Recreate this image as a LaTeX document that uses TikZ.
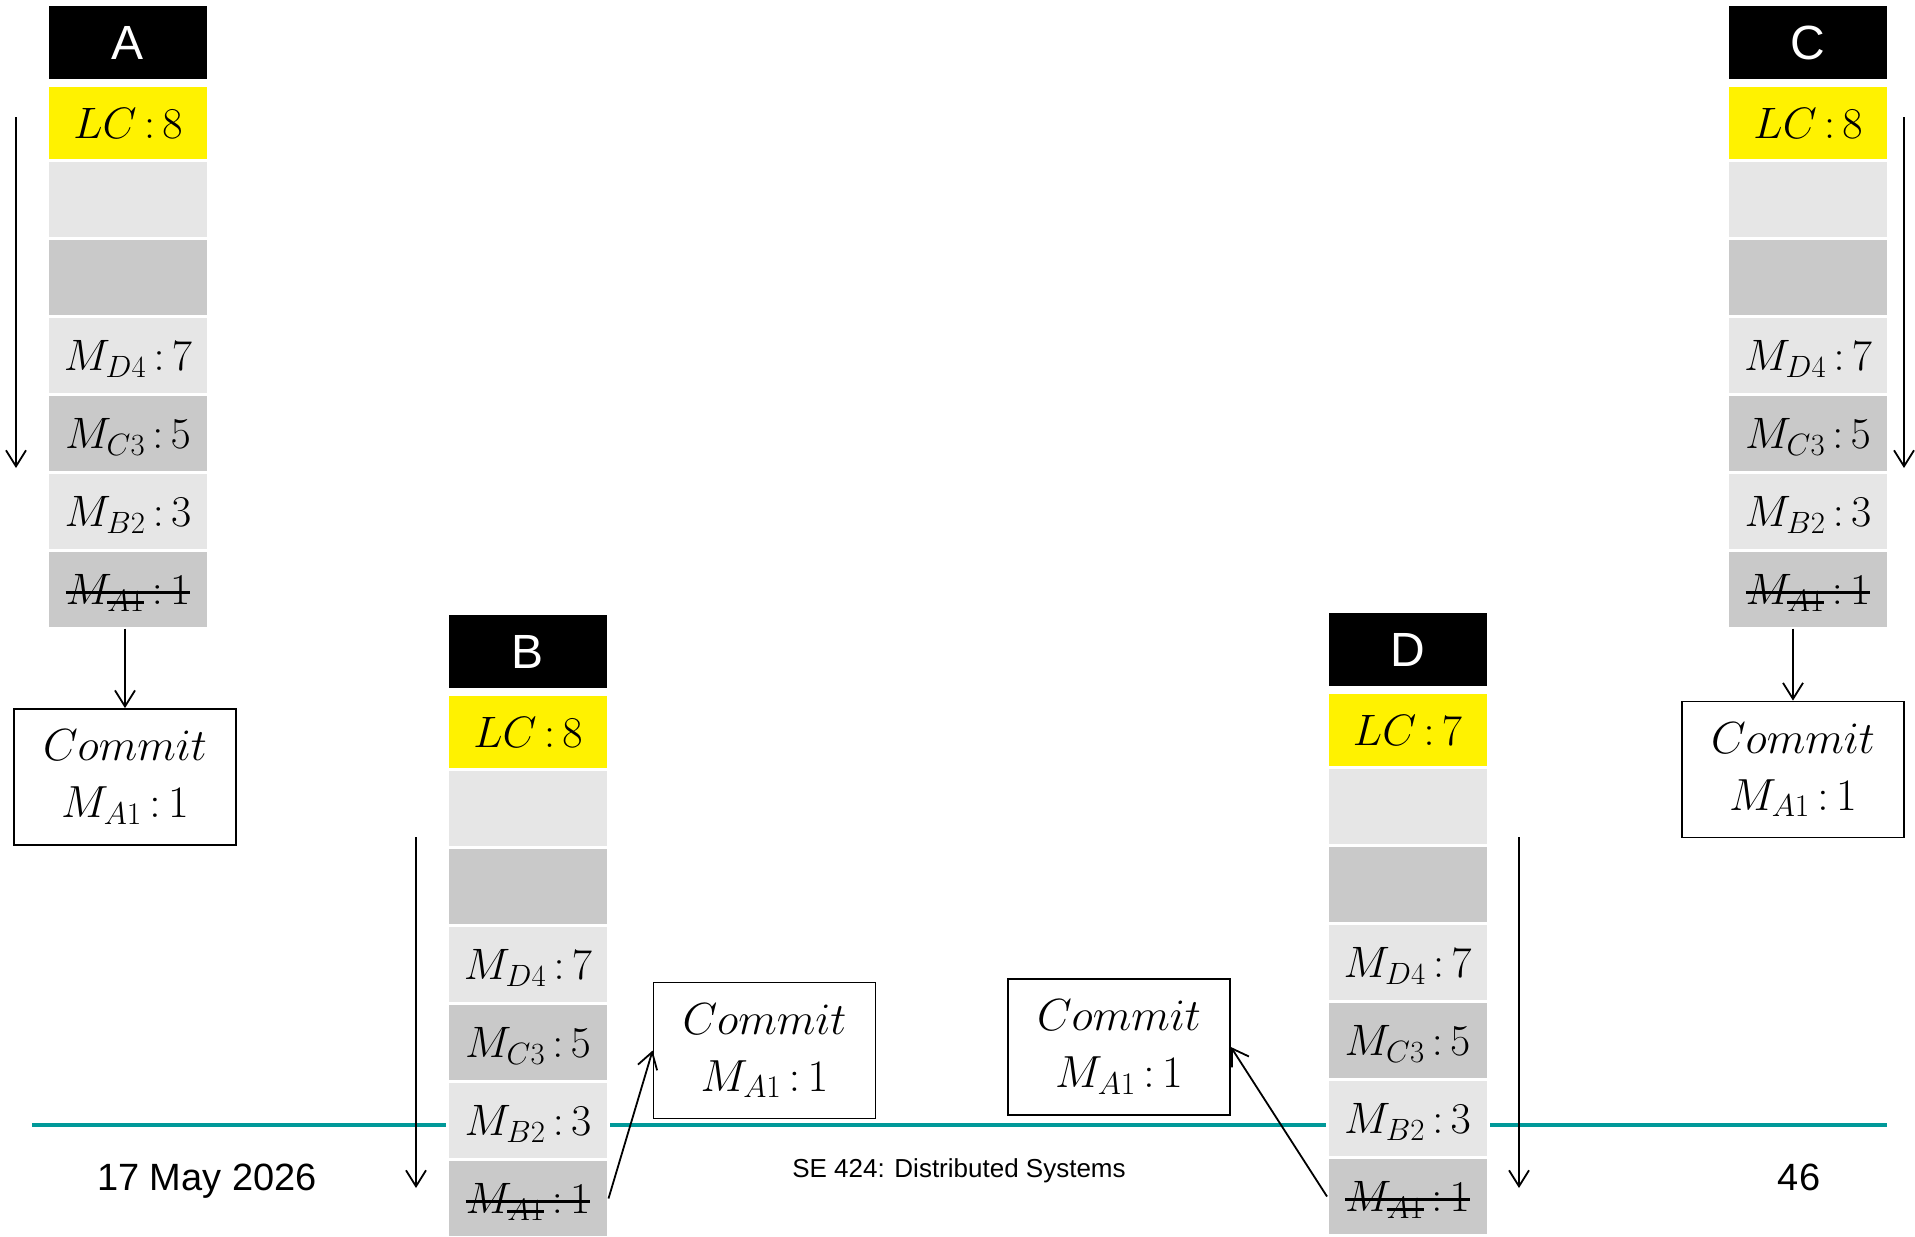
\RequirePackage{fix-cm}
\documentclass[tikz,border=0pt]{standalone}
\usepackage{fontspec}
\setsansfont{Liberation Sans}
\usetikzlibrary{arrows.meta, positioning}

\definecolor{slotlight}{RGB}{230,230,230}
\definecolor{slotdark}{RGB}{201,201,201}
\definecolor{railteal}{RGB}{0,153,153}

% struck-out entry, works in any math style
\newcommand{\gone}[1]{\mathpalette\goneaux{#1}}
\newcommand{\goneaux}[2]{\setbox0\hbox{$\mathsurround=0pt#1#2$}\rlap{\rule[0.36\ht0]{\wd0}{2.8pt}}\box0}

\tikzset{
    head/.style={rectangle, fill=black, draw=white, line width=3pt, outer sep=0pt, minimum width=161pt, minimum height=76pt, text=white, font=\sffamily\fontsize{48}{50}\selectfont, text height=34pt, text depth=0pt},
    clock/.style={head, fill=yellow, text=black, minimum height=75pt, font=\fontsize{44}{50}\selectfont, text height=30pt},
    slot/.style={clock, minimum height=78pt},
    slot light/.style={slot, fill=slotlight},
    slot dark/.style={slot, fill=slotdark},
    commit/.style={rectangle, draw, line width=1.8pt, minimum width=222pt, minimum height=136pt, align=center, font=\fontsize{45}{57}\selectfont},
    flow/.style={-{Straight Barb[length=16pt,width=20pt]}, line width=1.8pt},
    footer/.style={font=\sffamily\fontsize{38}{40}\selectfont, anchor=base}
}

% one process: name, x, y of the header, letter, logical clock
\newcommand{\logcolumn}[5]{%
    \node[head] (#1) at (#2,#3) {#4};
    \node[clock, below=5pt of #1] (#1lc) {$LC\,{:}\,#5$};
    \node[slot light, below=0pt of #1lc] (#1e1) {};
    \node[slot dark, below=0pt of #1e1] (#1e2) {};
    \node[slot light, below=0pt of #1e2] (#1d4) {$M_{D4}\,{:}\,7$};
    \node[slot dark, below=0pt of #1d4] (#1c3) {$M_{C3}\,{:}\,5$};
    \node[slot light, below=0pt of #1c3] (#1b2) {$M_{B2}\,{:}\,3$};
    \node[slot dark, below=0pt of #1b2] (#1a1) {$\gone{M_{\gone{A1}}\,{:}\,1}$};
}

\begin{document}
\begin{tikzpicture}[x=1pt, y=-1pt]
    \useasboundingbox (0,0) rectangle (1915,1237);

    % slide rule and footer
    \coordinate (railL) at (32,1125);
    \coordinate (railR) at (1887,1125);
    \draw[railteal, line width=3.5pt] (railL) -- (railR);
    \node[footer] (date) at (207,1190) {17 May 2026};
    \node[footer, font=\sffamily\fontsize{26}{28}\selectfont] (course) at (959,1177) {SE 424: Distributed Systems};
    \node[footer] (page) at (1799,1190) {46};

    % the four queues
    \logcolumn{pA}{128}{42.5}{A}{8}
    \logcolumn{pB}{528}{651.5}{B}{8}
    \logcolumn{pC}{1808}{42.5}{C}{8}
    \logcolumn{pD}{1407.5}{649.5}{D}{7}

    % delivered messages
    \node[commit] (cA) at (125,777) {$Commit$\\$M_{A1}\,{:}\,1$};
    \node[commit] (cB) at (764.5,1050.5) {$Commit$\\$M_{A1}\,{:}\,1$};
    \node[commit] (cC) at (1793,769.5) {$Commit$\\$M_{A1}\,{:}\,1$};
    \node[commit] (cD) at (1119,1047) {$Commit$\\$M_{A1}\,{:}\,1$};

    \draw[flow] (pAa1.south -| cA.north) -- (cA.north);
    \draw[flow] (pCa1.south -| cC.north) -- (cC.north);
    \draw[flow] (pBa1.east) -- (cB.west);
    \draw[flow] (pDa1.west) -- (cD.east);

    % time runs downwards
    \coordinate (tA0) at (16,117);   \coordinate (tA1) at (16,468);
    \coordinate (tC0) at (1904,117); \coordinate (tC1) at (1904,468);
    \coordinate (tB0) at (416,837);  \coordinate (tB1) at (416,1188);
    \coordinate (tD0) at (1519,837); \coordinate (tD1) at (1519,1188);
    \draw[flow] (tA0) -- (tA1);
    \draw[flow] (tC0) -- (tC1);
    \draw[flow] (tB0) -- (tB1);
    \draw[flow] (tD0) -- (tD1);
\end{tikzpicture}
\end{document}
